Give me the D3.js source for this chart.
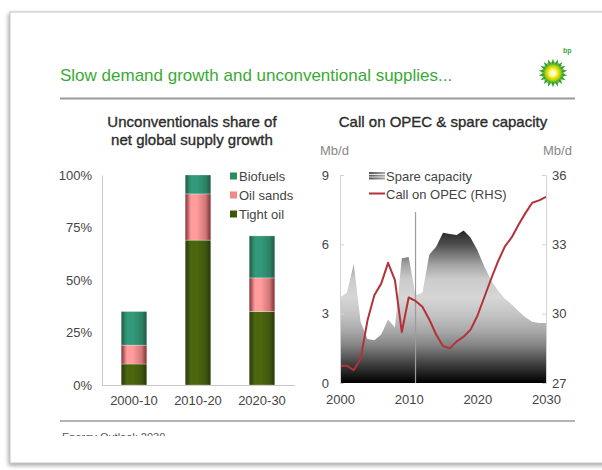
<!DOCTYPE html>
<html>
<head>
<meta charset="utf-8">
<script src="https://cdn.jsdelivr.net/npm/d3@7"></script>
<style>
  html, body { margin: 0; padding: 0; background: #fff; }
  svg { display: block; font-family: "Liberation Sans", Arial, Helvetica, sans-serif; }
</style>
</head>
<body>
<svg id="chart" width="602" height="470"></svg>
<script>
// ---- Left panel: unconventionals share of net global supply growth (%) ----
const periods  = ["2000-10", "2010-20", "2020-30"];
const tightOil = [10, 69, 35];
const oilSands = [9, 22, 16];
const biofuels = [16, 9, 20];
const shareTicks = [0, 25, 50, 75, 100];

// ---- Right panel: call on OPEC & spare capacity ----
const years = [2000, 2001, 2002, 2003, 2004, 2005, 2006, 2007, 2008, 2009, 2010,
               2011, 2012, 2013, 2014, 2015, 2016, 2017, 2018, 2019, 2020,
               2021, 2022, 2023, 2024, 2025, 2026, 2027, 2028, 2029, 2030];
const spareCapacity = [3.7, 3.9, 5.15, 2.65, 1.9, 1.85, 2.1, 2.75, 2.4, 5.4, 5.45,
                       3.8, 3.9, 5.55, 5.9, 6.5, 6.45, 6.4, 6.6, 6.3, 5.75,
                       5.05, 4.45, 4.0, 3.65, 3.4, 3.1, 2.85, 2.65, 2.6, 2.6];
const callOnOpec = [27.75, 27.75, 27.55, 28.05, 29.7, 30.8, 31.3, 32.2, 31.45, 29.2, 30.7,
                    30.55, 30.3, 29.75, 29.1, 28.6, 28.5, 28.8, 29.0, 29.3, 29.9,
                    30.7, 31.5, 32.25, 32.9, 33.3, 33.85, 34.35, 34.8, 34.9, 35.05];
const lhsTicks  = [0, 3, 6, 9];
const rhsTicks  = [27, 30, 33, 36];
const yearTicks = [2000, 2010, 2020, 2030];
const markerYear = 2011;

const svg = d3.select("#chart");
const defs = svg.append("defs");

// ---------- page card ----------
const shadow = defs.append("filter").attr("id", "cardShadow")
  .attr("x", "-5%").attr("y", "-5%").attr("width", "110%").attr("height", "110%");
shadow.append("feDropShadow").attr("dx", -1).attr("dy", 2)
  .attr("stdDeviation", 2).attr("flood-color", "#777").attr("flood-opacity", 0.7);

svg.append("rect").attr("x", 10).attr("y", 12).attr("width", 640).attr("height", 451)
  .attr("fill", "#fff").attr("stroke", "#c4c4c4").attr("stroke-width", 1)
  .attr("filter", "url(#cardShadow)");

// ---------- headline ----------
svg.append("text").attr("x", 60).attr("y", 81)
  .attr("font-size", 17).attr("fill", "#3aaa35")
  .text("Slow demand growth and unconventional supplies...");

svg.append("line").attr("x1", 60).attr("x2", 575).attr("y1", 98.5).attr("y2", 98.5)
  .attr("stroke", "#9a9a9a").attr("stroke-width", 2);
svg.append("line").attr("x1", 60).attr("x2", 575).attr("y1", 421).attr("y2", 421)
  .attr("stroke", "#9a9a9a").attr("stroke-width", 1.5);

// footer, partly hidden below the strip edge
defs.append("clipPath").attr("id", "footClip")
  .append("rect").attr("x", 0).attr("y", 420).attr("width", 602).attr("height", 16);
svg.append("text").attr("x", 62).attr("y", 441).attr("font-size", 11)
  .attr("fill", "#555").attr("clip-path", "url(#footClip)")
  .text("Energy Outlook 2030");

// ---------- logo (helios) ----------
const logo = svg.append("g").attr("transform", "translate(553,73)");
const sunGrad = defs.append("radialGradient").attr("id", "sunGrad");
[[0, "#ffffff"], [0.3, "#fffbb0"], [0.55, "#f3e600"], [0.8, "#a6cf16"], [1, "#3aaa35"]]
  .forEach(([o, c]) => sunGrad.append("stop").attr("offset", o).attr("stop-color", c));
const nPts = 18;
const starPts = d3.range(nPts * 2).map(i => {
  const a = i * Math.PI / nPts - Math.PI / 2;
  const r = i % 2 === 0 ? 14.5 : 9.5;
  return [r * Math.cos(a), r * Math.sin(a)];
});
logo.append("path").attr("d", d3.line()(starPts) + "Z").attr("fill", "#2f9d33");
const starPts2 = d3.range(nPts * 2).map(i => {
  const a = (i + 1) * Math.PI / nPts - Math.PI / 2;
  const r = i % 2 === 0 ? 12 : 8.5;
  return [r * Math.cos(a), r * Math.sin(a)];
});
logo.append("path").attr("d", d3.line()(starPts2) + "Z").attr("fill", "#6cc02c");
logo.append("circle").attr("r", 9.5).attr("fill", "url(#sunGrad)");
svg.append("text").attr("x", 563).attr("y", 53).attr("font-size", 7)
  .attr("font-weight", "bold").attr("fill", "#3aaa35").text("bp");

// ---------- left panel ----------
const left = svg.append("g");
left.append("text").attr("x", 192).attr("y", 126.5).attr("text-anchor", "middle")
  .attr("font-size", 15).attr("fill", "#2c2c2c").attr("stroke", "#2c2c2c").attr("stroke-width", 0.35)
  .text("Unconventionals share of");
left.append("text").attr("x", 192).attr("y", 144.5).attr("text-anchor", "middle")
  .attr("font-size", 15).attr("fill", "#2c2c2c").attr("stroke", "#2c2c2c").attr("stroke-width", 0.35)
  .text("net global supply growth");

const xBand = d3.scaleBand().domain(periods).range([102, 294])
  .paddingInner(0.6).paddingOuter(0.3);
const yShare = d3.scaleLinear().domain([0, 100]).range([385, 175]);

const yAxisL = left.append("g").attr("transform", "translate(102,0)")
  .call(d3.axisLeft(yShare).tickValues(shareTicks).tickSize(0).tickPadding(10)
    .tickFormat(d => d + "%"));
yAxisL.select(".domain").attr("stroke", "#c8c8c8");
yAxisL.selectAll("text").attr("font-size", 13).attr("fill", "#444")
  .attr("font-family", "Liberation Sans, Arial, sans-serif");

const xAxisL = left.append("g").attr("transform", "translate(0,385)")
  .call(d3.axisBottom(xBand).tickSize(0).tickPadding(11));
xAxisL.select(".domain").attr("stroke", "#c8c8c8").attr("d", "M102,0.5H295");
xAxisL.selectAll("text").attr("font-size", 13).attr("fill", "#444")
  .attr("font-family", "Liberation Sans, Arial, sans-serif");

// cylindrical shading for each series
const seriesDefs = [
  { key: "tight", name: "Tight oil", values: tightOil, edge: "#28370a", mid: "#4c6610", solid: "#3e5609" },
  { key: "sands", name: "Oil sands", values: oilSands, edge: "#7a2e30", mid: "#ff9c9c", solid: "#f08a8a" },
  { key: "bio",   name: "Biofuels",  values: biofuels, edge: "#1c5a40", mid: "#34997a", solid: "#2b8a63" }
];
seriesDefs.forEach(s => {
  const g = defs.append("linearGradient").attr("id", "grad-" + s.key)
    .attr("x1", 0).attr("x2", 1).attr("y1", 0).attr("y2", 0);
  [[0, s.edge], [0.22, s.mid], [0.45, s.mid], [0.8, d3.interpolateRgb(s.mid, s.edge)(0.35)], [1, s.edge]]
    .forEach(([o, c]) => g.append("stop").attr("offset", o).attr("stop-color", c));
});

const stackData = periods.map((p, i) => ({
  period: p, tight: tightOil[i], sands: oilSands[i], bio: biofuels[i]
}));
const stacked = d3.stack().keys(["tight", "sands", "bio"])(stackData);
left.append("g").selectAll("g").data(stacked).join("g")
  .attr("fill", d => "url(#grad-" + d.key + ")")
  .selectAll("rect").data(d => d).join("rect")
  .attr("x", d => xBand(d.data.period))
  .attr("width", xBand.bandwidth())
  .attr("y", d => yShare(d[1]))
  .attr("height", d => yShare(d[0]) - yShare(d[1]))
  .attr("stroke", "rgba(255,255,255,0.45)").attr("stroke-width", 0.6);

// legend (top to bottom: Biofuels, Oil sands, Tight oil)
const legL = left.append("g");
[...seriesDefs].reverse().forEach((s, i) => {
  const cy = 176 + i * 19;
  legL.append("rect").attr("x", 230).attr("y", cy - 3.5).attr("width", 7).attr("height", 7)
    .attr("fill", s.solid);
  legL.append("text").attr("x", 239).attr("y", cy + 4.5).attr("font-size", 13)
    .attr("fill", "#444").text(s.name);
});

// ---------- right panel ----------
const right = svg.append("g");
right.append("text").attr("x", 443).attr("y", 126.5).attr("text-anchor", "middle")
  .attr("font-size", 15).attr("fill", "#2c2c2c").attr("stroke", "#2c2c2c").attr("stroke-width", 0.35)
  .text("Call on OPEC & spare capacity");
right.append("text").attr("x", 320).attr("y", 155).attr("font-size", 13)
  .attr("fill", "#888").text("Mb/d");
right.append("text").attr("x", 543).attr("y", 155).attr("font-size", 13)
  .attr("fill", "#888").text("Mb/d");

const xYear = d3.scaleLinear().domain([2000, 2030]).range([340, 546]);
const yLhs = d3.scaleLinear().domain([0, 9]).range([383, 175]);
const yRhs = d3.scaleLinear().domain([27, 36]).range([383, 175]);

// vertical grey-scale shading for the spare capacity area
const spareGrad = defs.append("linearGradient").attr("id", "spareGrad")
  .attr("gradientUnits", "userSpaceOnUse")
  .attr("x1", 0).attr("x2", 0).attr("y1", yLhs(0)).attr("y2", yLhs(6.7));
[[0, "#000"], [0.5, "#262626"], [1.0, "#4e4e4e"], [1.6, "#828282"], [2.2, "#a6a6a6"],
 [2.9, "#c2c2c2"], [3.7, "#d6d6d6"], [4.5, "#cbcbcb"], [5.1, "#a4a4a4"], [5.5, "#7e7e7e"],
 [6.0, "#4e4e4e"], [6.7, "#1e1e1e"]]
  .forEach(([v, c]) => spareGrad.append("stop").attr("offset", v / 6.7).attr("stop-color", c));

const spareArea = d3.area()
  .x((d, i) => xYear(years[i]))
  .y0(yLhs(0))
  .y1(d => yLhs(d));
right.append("path").datum(spareCapacity).attr("d", spareArea).attr("fill", "url(#spareGrad)");

// marker for the latest historical year
right.append("line")
  .attr("x1", xYear(markerYear)).attr("x2", xYear(markerYear))
  .attr("y1", yLhs(7.4)).attr("y2", yLhs(0))
  .attr("stroke", "#9c9c9c").attr("stroke-width", 1.2);

const opecLine = d3.line()
  .x((d, i) => xYear(years[i]))
  .y(d => yRhs(d));
right.append("path").datum(callOnOpec).attr("d", opecLine)
  .attr("fill", "none").attr("stroke", "#b3323a").attr("stroke-width", 2)
  .attr("stroke-linejoin", "round");

const axL = right.append("g").attr("transform", "translate(340,0)")
  .call(d3.axisLeft(yLhs).tickValues(lhsTicks).tickSizeInner(-4).tickSizeOuter(0).tickPadding(11));
const axR = right.append("g").attr("transform", "translate(546,0)")
  .call(d3.axisRight(yRhs).tickValues(rhsTicks).tickSizeInner(-4).tickSizeOuter(0).tickPadding(6));
const axB = right.append("g").attr("transform", "translate(0,383)")
  .call(d3.axisBottom(xYear).tickValues(yearTicks).tickSize(0).tickPadding(12).tickFormat(d3.format("d")));
[axL, axR].forEach(a => {
  a.select(".domain").attr("stroke", "#d2d2d2");
  a.selectAll(".tick line").attr("stroke", "#d2d2d2");
});
axB.select(".domain").remove();
[axL, axR, axB].forEach(a => a.selectAll("text").attr("font-size", 13).attr("fill", "#444")
  .attr("font-family", "Liberation Sans, Arial, sans-serif"));

// legend
const iconGrad = defs.append("linearGradient").attr("id", "iconGrad")
  .attr("x1", 0).attr("x2", 1).attr("y1", 0).attr("y2", 0);
[[0, "#555"], [1, "#aaa"]].forEach(([o, c]) => iconGrad.append("stop").attr("offset", o).attr("stop-color", c));
const legR = right.append("g");
legR.append("rect").attr("x", 369).attr("y", 172).attr("width", 16).attr("height", 7.5)
  .attr("fill", "url(#iconGrad)");
[174.5, 177].forEach(y => legR.append("line").attr("x1", 369).attr("x2", 385)
  .attr("y1", y).attr("y2", y).attr("stroke", "#fff").attr("stroke-width", 0.8));
legR.append("text").attr("x", 386).attr("y", 180.5).attr("font-size", 13)
  .attr("fill", "#444").text("Spare capacity");
legR.append("line").attr("x1", 369).attr("x2", 385).attr("y1", 193.5).attr("y2", 193.5)
  .attr("stroke", "#b3323a").attr("stroke-width", 2);
legR.append("text").attr("x", 386).attr("y", 198.5).attr("font-size", 13)
  .attr("fill", "#444").text("Call on OPEC (RHS)");
</script>
</body>
</html>
